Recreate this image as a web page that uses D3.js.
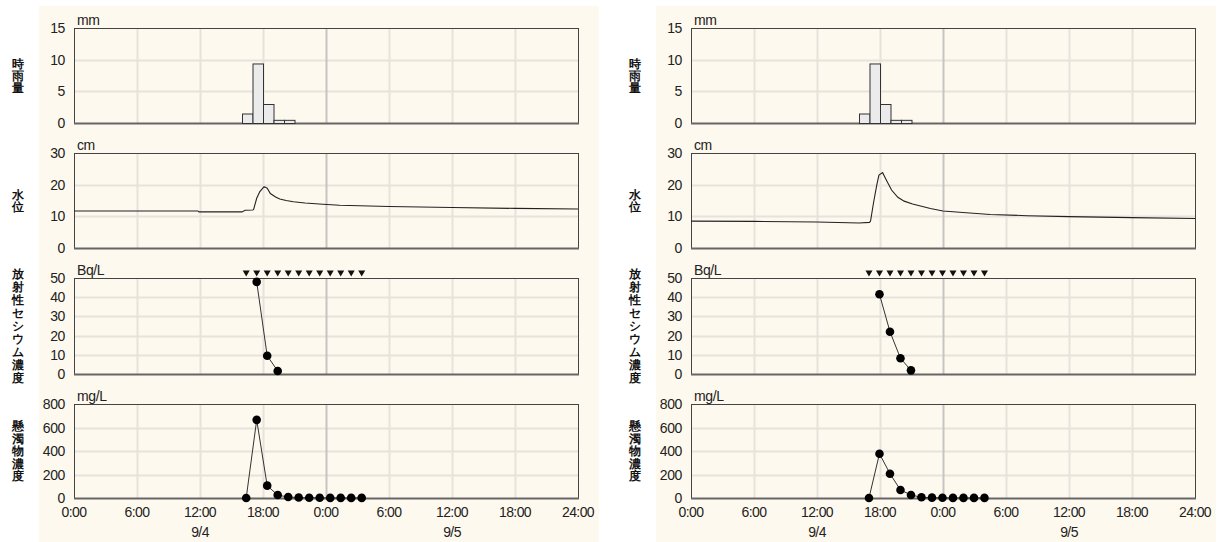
<!DOCTYPE html>
<html><head><meta charset="utf-8">
<script src="https://cdn.jsdelivr.net/npm/d3@7"></script>
<style>body{margin:0;background:#fff;} text{font-family:"Liberation Sans",Arial,sans-serif;}</style>
</head><body>
<svg id="c" width="1219" height="542"></svg>
<script>
// ---- shared axis data ----
const hourTicks = [0, 6, 12, 18, 24, 30, 36, 42, 48];
const hourTickLabels = ["0:00", "6:00", "12:00", "18:00", "0:00", "6:00", "12:00", "18:00", "24:00"];
const dateLabels = ["9/4", "9/5"];
const dateLabelHours = [12, 36];
const rainTicks = [0, 5, 10, 15];
const levelTicks = [0, 10, 20, 30];
const csTicks = [0, 10, 20, 30, 40, 50];
const ssTicks = [0, 200, 400, 600, 800];
const panelTitles = ["時雨量", "水位", "放射性セシウム濃度", "懸濁物濃度"];
const panelUnits = ["mm", "cm", "Bq/L", "mg/L"];

// ---- site A (left) ----
const rainHoursA = [16, 17, 18, 19, 20];
const rainA = [1.5, 9.4, 3.0, 0.5, 0.5];
const levelHoursA = [0, 11.8, 11.9, 16.0, 16.3, 17.0, 17.1, 17.4, 17.7, 18.1, 18.4, 18.7, 19.2, 19.6, 20.2, 20.9, 22, 23.7, 25.3, 30, 36, 42, 48];
const levelA = [11.7, 11.7, 11.4, 11.4, 11.9, 12.0, 12.1, 15.7, 17.8, 19.4, 18.9, 17.2, 16.1, 15.5, 15.0, 14.6, 14.2, 13.8, 13.5, 13.1, 12.8, 12.5, 12.3];
const sampleHoursA = [16.4, 17.4, 18.4, 19.4, 20.4, 21.4, 22.4, 23.4, 24.4, 25.4, 26.4, 27.4];
const csHoursA = [17.4, 18.4, 19.4];
const csA = [48, 9.5, 1.6];
const ssA = [0, 665, 105, 25, 8, 4, 2, 2, 1, 1, 1, 1];

// ---- site B (right) ----
const rainHoursB = [16, 17, 18, 19, 20];
const rainB = [1.5, 9.4, 3.0, 0.5, 0.5];
const levelHoursB = [0, 6, 12, 16, 17.0, 17.1, 17.4, 17.7, 17.9, 18.25, 18.6, 19.1, 19.7, 20.3, 21.1, 22.8, 24, 25.9, 28.5, 32, 36, 42, 48];
const levelB = [8.5, 8.4, 8.2, 7.9, 8.1, 8.5, 14.6, 20.0, 23.0, 23.8, 21.5, 18.3, 16.0, 14.8, 13.9, 12.5, 11.7, 11.2, 10.6, 10.2, 9.9, 9.6, 9.3];
const sampleHoursB = [16.95, 17.95, 18.95, 19.95, 20.95, 21.95, 22.95, 23.95, 24.95, 25.95, 26.95, 27.95];
const csHoursB = [17.95, 18.95, 19.95, 20.95];
const csB = [41.5, 22, 8.2, 1.9];
const ssB = [0, 377, 207, 68, 26, 6, 3, 2, 1, 1, 1, 1];

const sites = [
  {ox: 0, rainHours: rainHoursA, rain: rainA, levelHours: levelHoursA, level: levelA, sampleHours: sampleHoursA, csHours: csHoursA, cs: csA, ss: ssA},
  {ox: 617, rainHours: rainHoursB, rain: rainB, levelHours: levelHoursB, level: levelB, sampleHours: sampleHoursB, csHours: csHoursB, cs: csB, ss: ssB}
];

const svg = d3.select("#c");
const panels = [
  {top: 28, bottom: 123, max: 15, ticks: rainTicks},
  {top: 153, bottom: 248, max: 30, ticks: levelTicks},
  {top: 278, bottom: 374, max: 50, ticks: csTicks},
  {top: 404, bottom: 498, max: 800, ticks: ssTicks}
];
const titlePitch = [12, 12.5, 13, 12.5];

sites.forEach(site => {
  const g = svg.append("g").attr("transform", `translate(${site.ox},0)`);
  g.append("rect").attr("x", 39).attr("y", 6).attr("width", 560).attr("height", 536).attr("fill", "#fef9ee");
  const x = d3.scaleLinear().domain([0, 48]).range([74, 578]);
  const ys = panels.map(p => d3.scaleLinear().domain([0, p.max]).range([p.bottom, p.top]));

  panels.forEach((p, i) => {
    const y = ys[i];
    const pg = g.append("g");
    pg.selectAll("line.h").data(p.ticks.slice(1, -1)).join("line")
      .attr("x1", x(0)).attr("x2", x(48))
      .attr("y1", d => Math.round(y(d)) + 0.5).attr("y2", d => Math.round(y(d)) + 0.5)
      .attr("stroke", "#e6e3dd").attr("stroke-width", 2);
    pg.selectAll("line.v").data(hourTicks.slice(1, -1)).join("line")
      .attr("x1", d => Math.round(x(d)) + 0.5).attr("x2", d => Math.round(x(d)) + 0.5)
      .attr("y1", p.top).attr("y2", p.bottom)
      .attr("stroke", d => d === 24 ? "#c4c4c4" : "#e6e3dd").attr("stroke-width", 2);
    pg.append("rect").attr("x", x(0) + 0.5).attr("y", p.top + 0.5)
      .attr("width", x(48) - x(0)).attr("height", p.bottom - p.top)
      .attr("fill", "none").attr("stroke", "#444").attr("stroke-width", 1);
    pg.append("line").attr("x1", x(0)).attr("x2", x(48) + 1).attr("y1", p.bottom + 0.5).attr("y2", p.bottom + 0.5)
      .attr("stroke", "#666").attr("stroke-width", 2);
    pg.selectAll("text.yt").data(p.ticks).join("text")
      .attr("x", 65).attr("y", d => y(d)).attr("dy", "0.36em")
      .attr("text-anchor", "end").attr("font-size", 14).attr("fill", "#222")
      .attr("letter-spacing", -0.4)
      .text(d => d);
    pg.append("text").attr("x", 77).attr("y", p.top - 3).attr("font-size", 14).attr("fill", "#222")
      .attr("letter-spacing", -0.4).text(panelUnits[i]);
    const chars = Array.from(panelTitles[i]);
    const pitch = titlePitch[i];
    const cy = (p.top + p.bottom) / 2;
    pg.selectAll("text.tt").data(chars).join("text")
      .attr("x", 18).attr("y", (d, k) => cy + (k - (chars.length - 1) / 2) * pitch)
      .attr("dy", "0.38em").attr("text-anchor", "middle")
      .attr("font-family", "'Noto Sans CJK JP', sans-serif").attr("font-weight", "bold")
      .attr("font-size", 11.5).attr("fill", "#111").text(d => d);
  });

  const yr = ys[0];
  g.selectAll("rect.bar").data(site.rain).join("rect")
    .attr("x", (d, i) => x(site.rainHours[i]) + 0.5)
    .attr("width", (d, i) => x(site.rainHours[i] + 1) - x(site.rainHours[i]))
    .attr("y", d => yr(d) + 0.5).attr("height", d => yr(0) - yr(d))
    .attr("fill", "#ebebeb").attr("stroke", "#333").attr("stroke-width", 1);

  const yl = ys[1];
  g.append("path").datum(site.level)
    .attr("d", d3.line().x((d, i) => x(site.levelHours[i])).y(d => yl(d)))
    .attr("fill", "none").attr("stroke", "#222").attr("stroke-width", 1.1);

  const yc = ys[2];
  g.selectAll("path.tri").data(site.sampleHours).join("path")
    .attr("d", d => `M${x(d) - 3.5},270.5 L${x(d) + 3.5},270.5 L${x(d)},276.5 Z`)
    .attr("fill", "#111");
  g.append("path").datum(site.cs)
    .attr("d", d3.line().x((d, i) => x(site.csHours[i])).y(d => yc(d)))
    .attr("fill", "none").attr("stroke", "#333").attr("stroke-width", 1);
  g.selectAll("circle.cs").data(site.cs).join("circle")
    .attr("cx", (d, i) => x(site.csHours[i])).attr("cy", d => yc(d)).attr("r", 4.3).attr("fill", "#000");

  const yss = ys[3];
  g.append("path").datum(site.ss)
    .attr("d", d3.line().x((d, i) => x(site.sampleHours[i])).y(d => yss(d)))
    .attr("fill", "none").attr("stroke", "#333").attr("stroke-width", 1);
  g.selectAll("circle.ss").data(site.ss).join("circle")
    .attr("cx", (d, i) => x(site.sampleHours[i])).attr("cy", d => yss(d)).attr("r", 4.3).attr("fill", "#000");

  g.selectAll("text.xt").data(hourTicks).join("text")
    .attr("x", d => x(d)).attr("y", 517).attr("text-anchor", "middle")
    .attr("font-size", 14).attr("fill", "#222").attr("letter-spacing", -0.6)
    .text((d, i) => hourTickLabels[i]);
  g.selectAll("text.xd").data(dateLabelHours).join("text")
    .attr("x", d => x(d)).attr("y", 537).attr("text-anchor", "middle")
    .attr("font-size", 14).attr("fill", "#222").attr("letter-spacing", -0.6)
    .text((d, i) => dateLabels[i]);
});
</script>
</body></html>
